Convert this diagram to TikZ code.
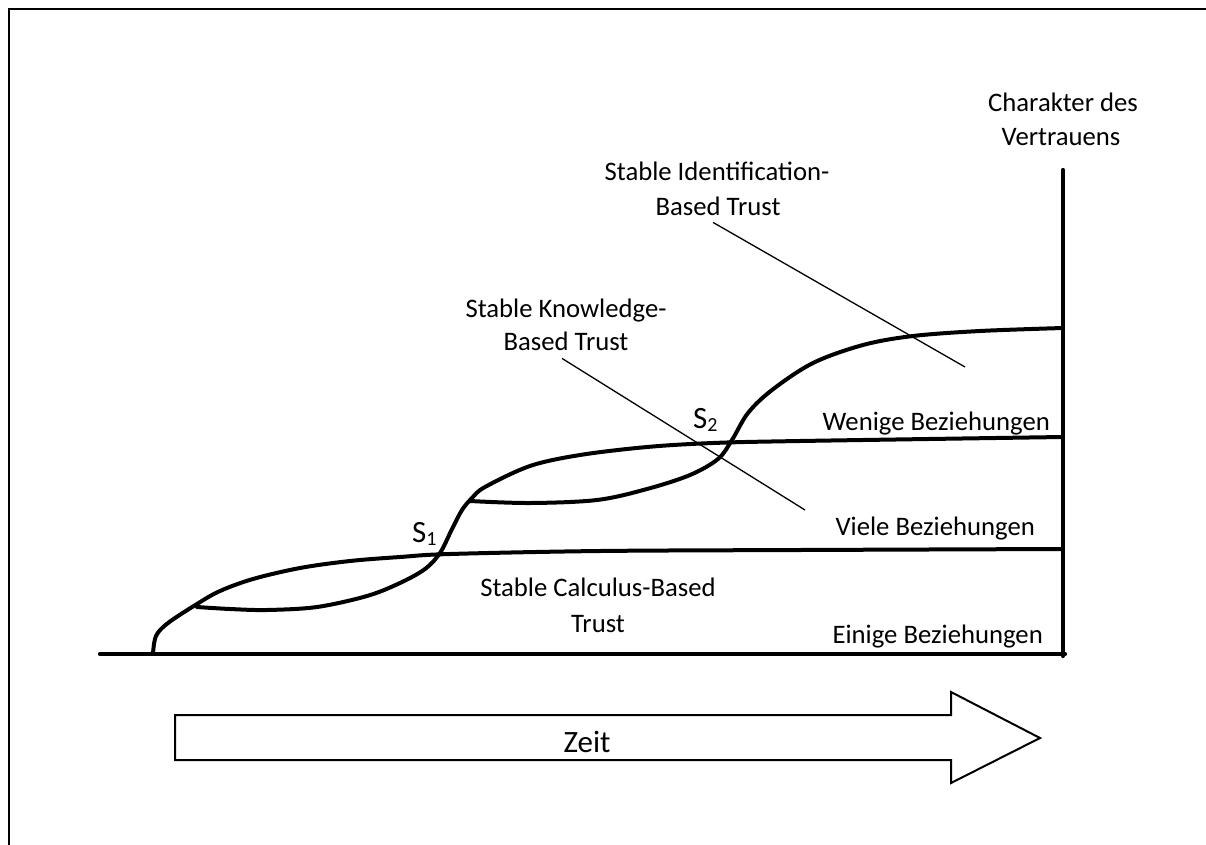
\documentclass[tikz,border=0pt]{standalone}
\usepackage{fontspec}
\setmainfont{Carlito}
% lowered, smaller index digit for the stage marks
\newcommand\stageidx[1]{\raisebox{-3pt}{\fontsize{20}{20}\selectfont #1}}
\begin{document}
\begin{tikzpicture}[x=1pt,y=-1pt,
  trustcurve/.style={line width=4pt, line cap=round, line join=round},
  axisline/.style={line width=4.2pt, line cap=round},
  leader/.style={line width=1.3pt},
  lbl/.style={inner sep=0pt, anchor=base, font=\fontsize{26.7}{32}\selectfont},
  biglbl/.style={inner sep=0pt, anchor=base west, font=\fontsize{31}{36}\selectfont},
  timearrow/.style={line width=2pt, line join=miter},
]
\useasboundingbox (0,0) rectangle (1206,845);

% page frame (top and left edges)
\draw[line width=2.5pt] (9,845) -- (9,9) -- (1206,9);

% axes
\coordinate (origin) at (100,654);
\coordinate (xend) at (1065,654);
\coordinate (ytop) at (1063,170);
\coordinate (ybot) at (1063,656);
\draw[axisline] (origin) -- (xend);
\draw[axisline] (ybot) -- (ytop);

% calculus-based trust: rise from the time axis into the first level
\draw[trustcurve] plot[smooth, tension=0.55] coordinates {
  (153,654) (156,636) (168,623) (197,604) (220,591) (253,579) (300,568)
  (350,561) (400,557) (450,554) (600,551) (800,550) (1063,549)};

% knowledge-based trust: lower branch, stage S1, second level
\draw[trustcurve] plot[smooth, tension=0.55] coordinates {
  (197,607) (230,609) (267,610) (317,607) (367,596) (400,583) (425,569)
  (440,553) (452,529) (462,510) (472,498) (485,487) (530,466) (580,455)
  (647,447) (713,443) (800,441) (1063,437)};

% identification-based trust: lower branch, stage S2, top level
\draw[trustcurve] plot[smooth, tension=0.55] coordinates {
  (470,501) (530,503) (597,500) (647,489) (690,475) (718,459) (732,440)
  (748,413) (772,390) (813,363) (863,345) (913,336) (980,331) (1063,328)};

% axis title
\node[lbl] (chara) at (1063,112) {Charakter des};
\node[lbl] (charb) at (1061,146) {Vertrauens};

% region labels
\node[lbl] (ida) at (717,180) {Stable Identification-};
\node[lbl] (idb) at (718,215) {Based Trust};
\node[lbl] (kna) at (566,317) {Stable Knowledge-};
\node[lbl] (knb) at (566,350) {Based Trust};
\node[lbl] (cala) at (598,596) {Stable Calculus-Based};
\node[lbl] (calb) at (598,632) {Trust};

% level labels
\node[lbl, anchor=base east] (wenige) at (1050,430) {Wenige Beziehungen};
\node[lbl, anchor=base east] (viele) at (1035,535) {Viele Beziehungen};
\node[lbl, anchor=base east] (einige) at (1043,643) {Einige Beziehungen};

% stage marks
\node[biglbl] (s1) at (412,542) {S\stageidx{1}};
\node[biglbl] (s2) at (693,428) {S\stageidx{2}};

% leader lines
\coordinate (idend) at (965,367);
\coordinate (knend) at (805,510);
\draw[leader] ([xshift=-5pt,yshift=-7pt]idb.south) -- (idend);
\draw[leader] ([xshift=-4pt,yshift=-8pt]knb.south) -- (knend);

% time arrow
\draw[timearrow] (175,715) -- (951,715) -- (951,692) -- (1040,738)
  -- (951,783) -- (951,760) -- (175,760) -- cycle;
\node[inner sep=0pt, anchor=base, font=\fontsize{31}{36}\selectfont] (zeit) at (587,752) {Zeit};
\end{tikzpicture}
\end{document}
